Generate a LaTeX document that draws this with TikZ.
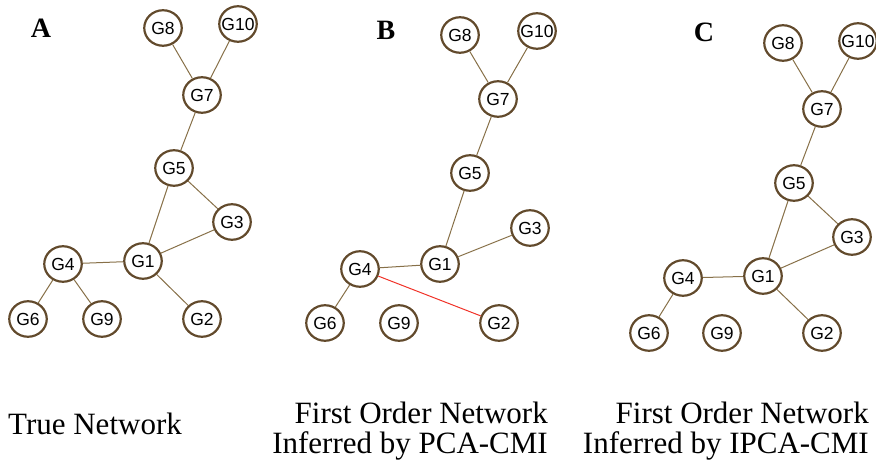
\documentclass[tikz,border=0pt]{standalone}
\usepackage{fontspec}
\setmainfont{Liberation Serif}
\newfontfamily\gfont{Liberation Sans}
\usetikzlibrary{shapes.geometric}
\definecolor{ringcol}{RGB}{98,74,44}
\definecolor{edgecol}{RGB}{135,112,72}
\definecolor{rededge}{RGB}{240,50,40}
\tikzset{
  gene/.style={ellipse, draw=ringcol, line width=2.2pt, fill=white, inner xsep=-8pt, inner ysep=0pt,
    minimum width=37.5pt, minimum height=35.5pt, font=\gfont\fontsize{17.5}{17.5}\selectfont},
  link/.style={draw=edgecol, line width=1pt},
  badlink/.style={draw=rededge, line width=1pt},
  panel/.style={font=\bfseries\fontsize{28}{28}\selectfont},
  captext/.style={font=\fontsize{31}{31}\selectfont, inner sep=0pt}
}
\begin{document}
\begin{tikzpicture}[x=1pt,y=-1pt]
\useasboundingbox (0,0) rectangle (876,465);
% Panel A
\node[panel] (la) at (41,28) {A};
\node[gene] (a8) at (163,28) {G8};
\node[gene] (a10) at (238,24) {G10};
\node[gene] (a7) at (202,95) {G7};
\node[gene] (a5) at (174,168) {G5};
\node[gene] (a3) at (232,222) {G3};
\node[gene] (a1) at (143,261) {G1};
\node[gene] (a4) at (63,264) {G4};
\node[gene] (a6) at (28,319) {G6};
\node[gene] (a9) at (102,319) {G9};
\node[gene] (a2) at (202,319) {G2};
\draw[link] (a8) -- (a7);
\draw[link] (a10) -- (a7);
\draw[link] (a7) -- (a5);
\draw[link] (a5) -- (a3);
\draw[link] (a5) -- (a1);
\draw[link] (a3) -- (a1);
\draw[link] (a4) -- (a1);
\draw[link] (a1) -- (a2);
\draw[link] (a4) -- (a6);
\draw[link] (a4) -- (a9);
\node[captext, anchor=base west] (ca) at (8,434) {True Network};
% Panel B
\node[panel] (lb) at (386,30) {B};
\node[gene] (b8) at (460,35) {G8};
\node[gene] (b10) at (537,31) {G10};
\node[gene] (b7) at (498,99) {G7};
\node[gene] (b5) at (470,173) {G5};
\node[gene] (b3) at (530,228) {G3};
\node[gene] (b1) at (440,264) {G1};
\node[gene] (b4) at (360,269) {G4};
\node[gene] (b6) at (325,323) {G6};
\node[gene] (b9) at (399,323) {G9};
\node[gene] (b2) at (499,323) {G2};
\draw[link] (b8) -- (b7);
\draw[link] (b10) -- (b7);
\draw[link] (b7) -- (b5);
\draw[link] (b5) -- (b1);
\draw[link] (b3) -- (b1);
\draw[link] (b4) -- (b1);
\draw[link] (b4) -- (b6);
\draw[badlink] (b4) -- (b2);
\node[captext, anchor=base east] (cb1) at (548,423) {First Order Network};
\node[captext, anchor=base east] (cb2) at (548,453) {Inferred by PCA-CMI};
% Panel C
\node[panel] (lc) at (704,32) {C};
\node[gene] (c8) at (783,43) {G8};
\node[gene] (c10) at (858,41) {G10};
\node[gene] (c7) at (822,109) {G7};
\node[gene] (c5) at (794,183) {G5};
\node[gene] (c3) at (852,237) {G3};
\node[gene] (c1) at (763,276) {G1};
\node[gene] (c4) at (683,278) {G4};
\node[gene] (c6) at (649,333) {G6};
\node[gene] (c9) at (722,333) {G9};
\node[gene] (c2) at (822,333) {G2};
\draw[link] (c8) -- (c7);
\draw[link] (c10) -- (c7);
\draw[link] (c7) -- (c5);
\draw[link] (c5) -- (c3);
\draw[link] (c5) -- (c1);
\draw[link] (c3) -- (c1);
\draw[link] (c4) -- (c1);
\draw[link] (c1) -- (c2);
\draw[link] (c4) -- (c6);
\node[captext, anchor=base east] (cc1) at (869,423) {First Order Network};
\node[captext, anchor=base east] (cc2) at (869,453) {Inferred by IPCA-CMI};
\end{tikzpicture}
\end{document}
